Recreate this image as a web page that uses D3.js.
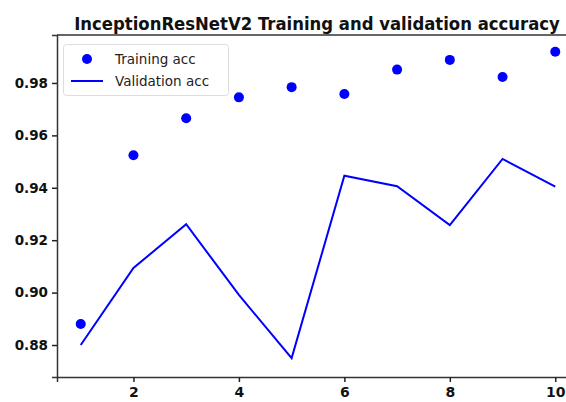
<!DOCTYPE html>
<html>
<head>
<meta charset="utf-8">
<script src="https://cdn.jsdelivr.net/npm/d3@7"></script>
<style>
  body { margin: 0; background: #fff; }
  svg { display: block; font-family: "DejaVu Sans", sans-serif; }
</style>
</head>
<body>
<svg></svg>
<script>
// values
let epochs = [1, 2, 3, 4, 5, 6, 7, 8, 9, 10]
let trainAcc = [0.888, 0.9524, 0.9665, 0.9745, 0.9784, 0.9758, 0.9851, 0.9888, 0.9823, 0.9919]
let valAcc = [0.880, 0.9094, 0.9261, 0.8991, 0.8750, 0.9446, 0.9406, 0.9258, 0.9510, 0.9404]
let xTicks = [2, 4, 6, 8, 10]
let yTicks = [0.88, 0.90, 0.92, 0.94, 0.96, 0.98]
let titleText = "InceptionResNetV2 Training and validation accuracy"
let legendLabels = ["Training acc", "Validation acc"]

let width = 566
let height = 402
let plotLeft = 57, plotRight = 579, plotTop = 35, plotBottom = 377
let blue = "#0000ff"

let svg = d3.select("svg").attr("width", width).attr("height", height)

let xScale = d3.scaleLinear().domain([0.55, 10.45]).range([plotLeft, plotRight])
let yScale = d3.scaleLinear().domain([0.8678, 0.9983]).range([plotBottom, plotTop])

// top spine
svg.append("line")
   .attr("x1", plotLeft).attr("x2", plotRight).attr("y1", plotTop).attr("y2", plotTop)
   .attr("stroke", "#333").attr("stroke-width", 1.5)

let xAxis = d3.axisBottom(xScale).tickValues(xTicks).tickFormat(d3.format("d")).tickSizeOuter(0).tickSize(5)
let gx = svg.append("g")
   .attr("transform", "translate(0," + plotBottom + ")")
   .call(xAxis)
gx.select(".domain").attr("stroke", "#333").attr("stroke-width", 1.5)
gx.selectAll(".tick line").attr("stroke", "#222").attr("stroke-width", 1.5)
gx.selectAll(".tick text")
  .attr("font-size", 14).attr("font-family", "DejaVu Sans").attr("fill", "#111")
  .attr("font-weight", "bold").attr("dy", "0.85em")

let yAxis = d3.axisLeft(yScale).tickValues(yTicks).tickFormat(d3.format(".2f")).tickSizeOuter(0).tickSize(5)
let gy = svg.append("g")
   .attr("transform", "translate(" + plotLeft + ",0)")
   .call(yAxis)
gy.select(".domain").attr("stroke", "#333").attr("stroke-width", 1.5)
gy.selectAll(".tick line").attr("stroke", "#222").attr("stroke-width", 1.5)
gy.selectAll(".tick text")
  .attr("font-size", 13.5).attr("font-family", "DejaVu Sans").attr("fill", "#111")
  .attr("font-weight", "bold").attr("x", -9)

// validation line
let line = d3.line()
  .x((d, i) => xScale(epochs[i]))
  .y(d => yScale(d))
svg.append("path")
   .datum(valAcc)
   .attr("d", line)
   .attr("fill", "none")
   .attr("stroke", blue)
   .attr("stroke-width", 2)

// training points
svg.selectAll("circle.train")
   .data(trainAcc)
   .enter()
   .append("circle")
   .attr("class", "train")
   .attr("cx", (d, i) => xScale(epochs[i]))
   .attr("cy", d => yScale(d))
   .attr("r", 5)
   .attr("fill", blue)

// title, squeezed horizontally to fit like the reference
let title = svg.append("text")
   .attr("text-anchor", "middle")
   .attr("font-size", 17)
   .attr("font-weight", "bold")
   .attr("fill", "#111")
   .text(titleText)
let natural = title.node().getComputedTextLength()
let sx = Math.min(1, 486 / natural)
title.attr("transform", "translate(317,30) scale(" + sx + ",1)")

// legend
let lg = svg.append("g")
lg.append("rect")
  .attr("x", 63.5).attr("y", 44.5).attr("width", 165).attr("height", 51)
  .attr("rx", 3)
  .attr("fill", "#fff").attr("fill-opacity", 0.8)
  .attr("stroke", "#ddd")
lg.append("circle").attr("cx", 87).attr("cy", 59).attr("r", 5).attr("fill", blue)
lg.append("line").attr("x1", 71).attr("x2", 103).attr("y1", 81).attr("y2", 81)
  .attr("stroke", blue).attr("stroke-width", 2)
lg.selectAll("text.lab")
  .data(legendLabels)
  .enter()
  .append("text")
  .attr("class", "lab")
  .attr("x", 115)
  .attr("y", (d, i) => 64 + i * 22)
  .attr("font-size", 13.5)
  .attr("fill", "#222")
  .text(d => d)
</script>
</body>
</html>
